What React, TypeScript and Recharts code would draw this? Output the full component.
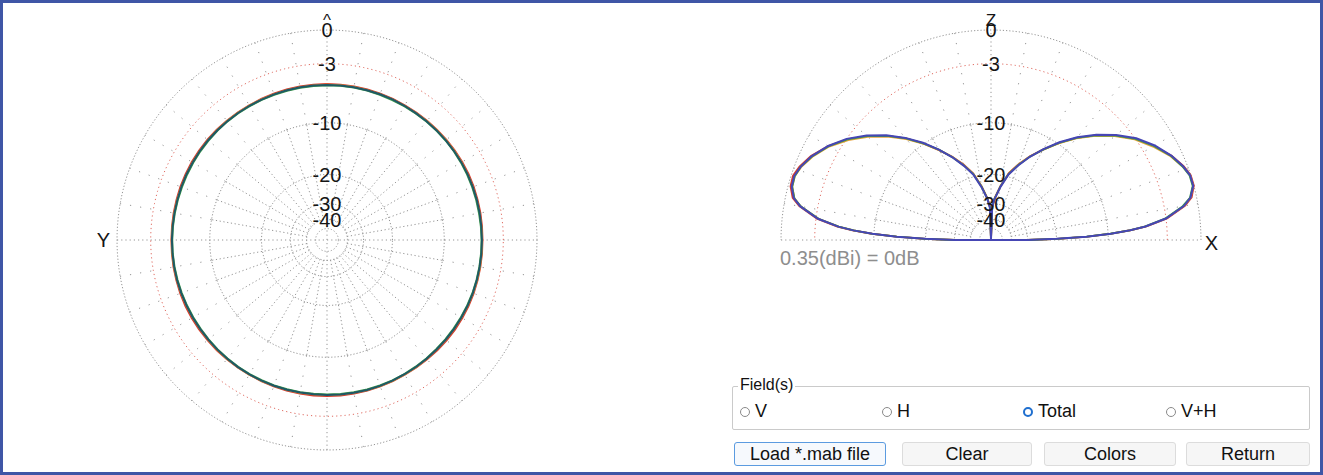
import React from "react";
import { ScatterChart, Scatter, XAxis, YAxis, ReferenceLine, ReferenceDot } from "recharts";

// ring levels in dB (ARRL log scale) and their labels
const RING_DB = [0, -3, -10, -20, -30, -40, -50];
const RING_LABELS = ["0", "-3", "-10", "-20", "-30", "-40"];

// azimuth cut (left plot), degrees and dB
const AZ_ANGLES = [
  0, 5, 10, 15, 20, 25, 30, 35, 40, 45, 50, 55,
  60, 65, 70, 75, 80, 85, 90, 95, 100, 105, 110, 115,
  120, 125, 130, 135, 140, 145, 150, 155, 160, 165, 170, 175,
  180, 185, 190, 195, 200, 205, 210, 215, 220, 225, 230, 235,
  240, 245, 250, 255, 260, 265, 270, 275, 280, 285, 290, 295,
  300, 305, 310, 315, 320, 325, 330, 335, 340, 345, 350, 355,
  360,
];
const AZ_RED = [
  -5.10, -5.10, -5.11, -5.12, -5.13, -5.14, -5.14, -5.13, -5.12, -5.10, -5.09, -5.08,
  -5.08, -5.09, -5.10, -5.12, -5.13, -5.14, -5.14, -5.13, -5.11, -5.10, -5.08, -5.07,
  -5.07, -5.08, -5.10, -5.11, -5.13, -5.14, -5.15, -5.14, -5.12, -5.10, -5.09, -5.08,
  -5.08, -5.09, -5.10, -5.12, -5.13, -5.14, -5.14, -5.13, -5.12, -5.10, -5.08, -5.07,
  -5.07, -5.08, -5.09, -5.11, -5.13, -5.14, -5.15, -5.14, -5.12, -5.11, -5.09, -5.08,
  -5.08, -5.09, -5.10, -5.12, -5.13, -5.14, -5.14, -5.13, -5.12, -5.11, -5.10, -5.10,
  -5.10,
];
const AZ_ORANGE = [
  -5.17, -5.18, -5.19, -5.20, -5.20, -5.19, -5.18, -5.17, -5.16, -5.16, -5.17, -5.18,
  -5.19, -5.20, -5.21, -5.20, -5.19, -5.18, -5.17, -5.16, -5.16, -5.17, -5.18, -5.19,
  -5.20, -5.20, -5.19, -5.18, -5.17, -5.16, -5.16, -5.17, -5.18, -5.19, -5.20, -5.21,
  -5.20, -5.19, -5.18, -5.17, -5.16, -5.16, -5.17, -5.18, -5.19, -5.20, -5.20, -5.19,
  -5.18, -5.17, -5.16, -5.16, -5.17, -5.18, -5.19, -5.20, -5.21, -5.20, -5.19, -5.18,
  -5.17, -5.16, -5.16, -5.17, -5.18, -5.19, -5.20, -5.20, -5.19, -5.18, -5.17, -5.17,
  -5.17,
];
const AZ_GREEN = [
  -5.25, -5.26, -5.27, -5.28, -5.28, -5.27, -5.26, -5.25, -5.24, -5.24, -5.25, -5.26,
  -5.27, -5.28, -5.29, -5.28, -5.27, -5.26, -5.25, -5.24, -5.24, -5.25, -5.26, -5.27,
  -5.28, -5.28, -5.27, -5.26, -5.25, -5.24, -5.24, -5.25, -5.26, -5.27, -5.28, -5.29,
  -5.28, -5.27, -5.26, -5.25, -5.24, -5.24, -5.25, -5.26, -5.27, -5.28, -5.28, -5.27,
  -5.26, -5.25, -5.24, -5.24, -5.25, -5.26, -5.27, -5.28, -5.29, -5.28, -5.27, -5.26,
  -5.25, -5.24, -5.24, -5.25, -5.26, -5.27, -5.28, -5.28, -5.27, -5.26, -5.25, -5.25,
  -5.25,
];
const AZ_TEAL = [
  -5.20, -5.20, -5.21, -5.21, -5.22, -5.22, -5.21, -5.21, -5.20, -5.20, -5.19, -5.19,
  -5.20, -5.20, -5.21, -5.22, -5.22, -5.21, -5.20, -5.20, -5.19, -5.19, -5.20, -5.21,
  -5.21, -5.22, -5.22, -5.21, -5.20, -5.19, -5.19, -5.20, -5.20, -5.21, -5.22, -5.22,
  -5.21, -5.20, -5.20, -5.19, -5.19, -5.20, -5.21, -5.21, -5.22, -5.22, -5.21, -5.20,
  -5.20, -5.19, -5.19, -5.20, -5.21, -5.21, -5.22, -5.22, -5.21, -5.20, -5.20, -5.19,
  -5.19, -5.20, -5.20, -5.21, -5.22, -5.22, -5.21, -5.20, -5.20, -5.20, -5.20, -5.20,
  -5.20,
];

// elevation cut (right plot), degrees above the X axis and dB
const EL_ANGLES = [0, 1, 2, 3, 4, 5, 7, 10, 12, 15, 18, 21, 25, 30, 35, 40, 45, 50, 55, 60, 65, 70, 75, 80, 85, 88, 90,
  92, 95, 100, 105, 110, 115, 120, 125, 130, 135, 140, 145, 150, 155, 159, 162, 165, 168, 170, 173, 175, 176, 177, 178, 179, 180];
const EL_RED = [-30, -19.6, -13.3, -9.5, -6.9, -5.1, -2.9, -1.1, -0.4, 0, 0, -0.3, -0.9, -1.9, -3.0, -4.4, -6.0, -7.8, -9.8, -12.0, -14.1, -16.4, -19.0, -23.0, -27.6, -31.5, -99,
  -31.5, -27.6, -23.0, -19.1, -16.5, -14.2, -12.1, -9.9, -7.9, -6.1, -4.5, -3.1, -1.9, -0.95, -0.4, -0.15, -0.2, -0.6, -1.3, -3.1, -5.3, -7.1, -9.7, -13.6, -19.8, -30];
const EL_ORANGE = [-30, -19.8, -13.4, -9.6, -7.0, -5.2, -3.0, -1.2, -0.5, -0.05, -0.05, -0.4, -1.0, -2.0, -3.1, -4.5, -6.1, -7.9, -9.9, -12.0, -14.1, -16.5, -19.1, -23.1, -27.7, -31.7, -99,
  -31.7, -27.7, -23.2, -19.2, -16.6, -14.2, -12.1, -10.0, -8.0, -6.2, -4.6, -3.2, -2.0, -1.1, -0.55, -0.3, -0.35, -0.75, -1.45, -3.25, -5.45, -7.25, -9.85, -13.8, -20.1, -30];
const EL_GREEN = [-30, -19.9, -13.5, -9.7, -7.1, -5.3, -3.1, -1.3, -0.55, -0.1, -0.1, -0.4, -0.95, -1.9, -3.0, -4.4, -6.0, -7.8, -9.8, -12.0, -14.2, -16.6, -19.2, -23.2, -27.8, -31.8, -99,
  -31.8, -27.8, -23.3, -19.3, -16.7, -14.3, -12.0, -9.9, -7.9, -6.1, -4.5, -3.1, -1.95, -1.05, -0.5, -0.3, -0.35, -0.75, -1.45, -3.25, -5.45, -7.25, -9.8, -13.75, -20, -30];
const EL_BLUE = [-30, -20, -13.5, -9.6, -7.0, -5.2, -3.0, -1.2, -0.5, -0.05, -0.05, -0.35, -0.9, -1.8, -2.9, -4.3, -5.9, -7.7, -9.7, -11.9, -14.2, -16.7, -19.4, -23.4, -28, -32, -99,
  -32, -28, -23.5, -19.5, -16.8, -14.3, -12.0, -9.8, -7.8, -6.0, -4.4, -3.0, -1.9, -1.0, -0.5, -0.25, -0.3, -0.7, -1.4, -3.2, -5.4, -7.2, -9.8, -13.7, -20, -30];

const AZ_SERIES = [AZ_RED, AZ_ORANGE, AZ_GREEN, AZ_TEAL];
const EL_SERIES = [EL_RED, EL_ORANGE, EL_GREEN, EL_BLUE];
const AZ_COLORS = ["#d8392b", "#e9a23b", "#3d9b4a", "#1f5866"];
const EL_COLORS = ["#d8392b", "#e9a23b", "#3d9b4a", "#4646b4"];

const FIELDS = ["V", "H", "Total", "V+H"];
const BUTTONS = ["Load *.mab file", "Clear", "Colors", "Return"];

const FONT = "Arial, 'Liberation Sans', sans-serif";
const GRID = "#959595";

type Pt = { x: number; y: number };

// ARRL log-periodic radius (0 dB = 1)
const arrl = (db: number) => Math.pow(0.89, -db / 2);
const rad = (d: number) => (d * Math.PI) / 180;

// azimuth: 0 deg on top, Y to the left
const azPoints = (angles: number[], dbs: number[]): Pt[] =>
  angles.map((a, i) => ({ x: -arrl(dbs[i]) * Math.sin(rad(a)), y: arrl(dbs[i]) * Math.cos(rad(a)) }));

// elevation: 0 deg toward X, closed back along the ground line
const elPoints = (angles: number[], dbs: number[]): Pt[] => {
  const pts = angles.map((a, i) => ({ x: arrl(dbs[i]) * Math.cos(rad(a)), y: arrl(dbs[i]) * Math.sin(rad(a)) }));
  return [...pts, pts[0]];
};

const ringPoints = (db: number, half: boolean): Pt[] => {
  const out: Pt[] = [];
  const end = half ? 180 : 360;
  for (let a = 0; a <= end; a += 2) out.push({ x: arrl(db) * Math.cos(rad(a)), y: arrl(db) * Math.sin(rad(a)) });
  return out;
};

const noDot = () => <g />;

function PolarPlot({ half, left, series, colors, axisLetter, axisPos, topGlyph }: {
  half: boolean; left: number; series: Pt[][]; colors: string[];
  axisLetter: string; axisPos: Pt; topGlyph: string;
}) {
  const spokes: number[] = [];
  for (let a = 10; a < (half ? 180 : 360); a += 10) if (a % 90 !== 0) spokes.push(a);
  const rIn = arrl(-40);
  const rMid = arrl(-10);
  return (
    <div style={{ position: "absolute", left, top: 7 }}>
      <ScatterChart width={460} height={460} margin={{ top: 20, right: 20, bottom: 20, left: 20 }}>
        <XAxis type="number" dataKey="x" domain={[-1, 1]} hide />
        <YAxis type="number" dataKey="y" domain={[-1, 1]} hide />

        {/* axes through the centre */}
        <ReferenceLine segment={[{ x: -1, y: 0 }, { x: 1, y: 0 }]} stroke={GRID} strokeDasharray="1.2 3" />
        <ReferenceLine segment={[{ x: 0, y: half ? 0 : -1 }, { x: 0, y: 1 }]} stroke={GRID} strokeDasharray="1.2 3" />

        {/* spokes */}
        {spokes.map((a) => (
          <ReferenceLine key={"si" + a}
            segment={[{ x: rIn * Math.cos(rad(a)), y: rIn * Math.sin(rad(a)) }, { x: rMid * Math.cos(rad(a)), y: rMid * Math.sin(rad(a)) }]}
            stroke={GRID} strokeDasharray="1.2 2.6" />
        ))}
        {spokes.map((a) => (
          <ReferenceLine key={"so" + a}
            segment={[{ x: rMid * Math.cos(rad(a)), y: rMid * Math.sin(rad(a)) }, { x: Math.cos(rad(a)), y: Math.sin(rad(a)) }]}
            stroke={GRID} strokeDasharray="1.2 9" />
        ))}

        {/* rings */}
        {RING_DB.map((db) => (
          <Scatter key={"r" + db} data={ringPoints(db, half)} shape={noDot} isAnimationActive={false}
            line={{ stroke: db === -3 ? "#e06a60" : GRID, strokeWidth: 1, strokeDasharray: db === -3 ? "1.2 3" : "1.2 2" }} />
        ))}

        {/* ring labels */}
        {RING_LABELS.map((t, i) => (
          <ReferenceDot key={"l" + t} x={0} y={arrl(RING_DB[i])} r={0} fill="none" stroke="none" ifOverflow="visible"
            label={{ value: t, position: "center", fill: "#151515", fontSize: 20, fontFamily: FONT }} />
        ))}
        <ReferenceDot x={0} y={1.05} r={0} fill="none" stroke="none" ifOverflow="visible"
          label={{ value: topGlyph, position: "center", fill: "#151515", fontSize: 17, fontFamily: FONT }} />
        <ReferenceDot x={axisPos.x} y={axisPos.y} r={0} fill="none" stroke="none" ifOverflow="visible"
          label={{ value: axisLetter, position: "center", fill: "#151515", fontSize: 20, fontFamily: FONT }} />

        {/* traces */}
        {series.map((pts, i) => (
          <Scatter key={"t" + i} data={pts} shape={noDot} isAnimationActive={false}
            line={{ stroke: colors[i], strokeWidth: i === series.length - 1 ? 2 : 1.8 }} />
        ))}
      </ScatterChart>
    </div>
  );
}

function Radio({ label, on, left }: { label: string; on: boolean; left: number }) {
  return (
    <div style={{ position: "absolute", left, top: 398, display: "flex", alignItems: "center", fontSize: 18, color: "#111" }}>
      <span style={{
        width: on ? 6 : 8, height: on ? 6 : 8, borderRadius: "50%", marginRight: 5,
        border: on ? "2.5px solid #1f6fcf" : "1px solid #8a8a8a", background: "#fff", display: "inline-block",
      }} />
      {label}
    </div>
  );
}

export default function App() {
  const azTraces = AZ_SERIES.map((s) => azPoints(AZ_ANGLES, s));
  const elTraces = EL_SERIES.map((s) => elPoints(EL_ANGLES, s));
  const btnLeft = [731, 899, 1041, 1183];
  const btnWidth = [152, 130, 132, 124];
  return (
    <div style={{
      position: "absolute", left: 0, top: 0, width: 1323, height: 475, boxSizing: "border-box",
      border: "3px solid #3f56a6", background: "#fff", fontFamily: FONT, overflow: "hidden",
    }}>
      <PolarPlot half={false} left={94} series={azTraces} colors={AZ_COLORS} axisLetter="Y" axisPos={{ x: -1.065, y: 0 }} topGlyph="^" />
      <PolarPlot half={true} left={758} series={elTraces} colors={EL_COLORS} axisLetter="X" axisPos={{ x: 1.05, y: -0.015 }} topGlyph="Z" />

      <div style={{ position: "absolute", left: 777, top: 244, fontSize: 20, color: "#8e8e8e" }}>0.35(dBi) = 0dB</div>

      <div style={{ position: "absolute", left: 729, top: 383, width: 576, height: 42, border: "1px solid #cacaca", borderRadius: 2 }} />
      <div style={{ position: "absolute", left: 735, top: 373, fontSize: 16, color: "#111", background: "#fff", padding: "0 2px" }}>Field(s)</div>
      {FIELDS.map((f, i) => (
        <Radio key={f} label={f} on={f === "Total"} left={[737, 879, 1020, 1163][i]} />
      ))}

      {BUTTONS.map((b, i) => (
        <div key={b} style={{
          position: "absolute", left: btnLeft[i], top: 439, width: btnWidth[i], height: 24, boxSizing: "border-box",
          border: i === 0 ? "1.5px solid #5b9be0" : "1px solid #dcdcdc", borderRadius: 3,
          background: i === 0 ? "#f6f9fd" : "#f6f6f6", fontSize: 18, color: "#111",
          display: "flex", alignItems: "center", justifyContent: "center",
        }}>{b}</div>
      ))}
    </div>
  );
}
